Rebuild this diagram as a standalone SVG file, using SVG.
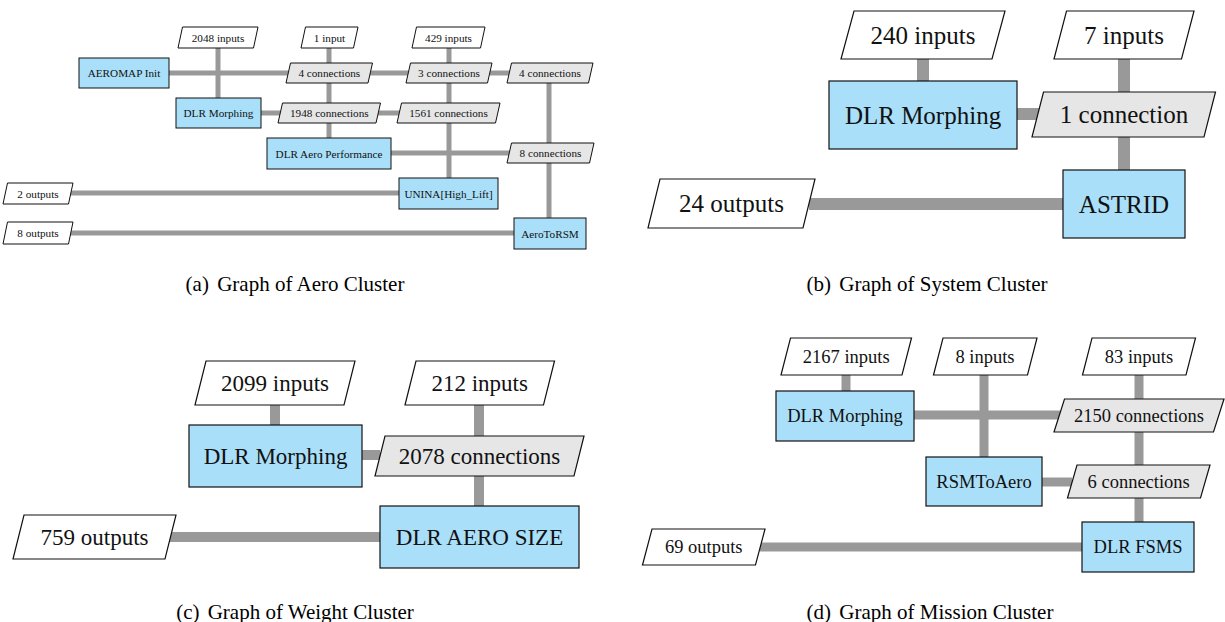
<svg xmlns="http://www.w3.org/2000/svg" width="1225" height="622" viewBox="0 0 1225 622" font-family="'Liberation Serif', 'Times New Roman', serif">
<style>
.bx{fill:#aadff9;stroke:#111;}
.pc{fill:#e6e6e6;stroke:#111;}
.pi{fill:#fff;stroke:#111;}
.a{stroke-width:1}
.o{stroke-width:1.2}
text{font-family:'Liberation Serif','Times New Roman',serif}
.t{fill:#111;text-anchor:middle;dominant-baseline:central}
.ta{font-size:11.2px}
.tb{font-size:25px}
.tc{font-size:23px}
.td{font-size:18.5px}
.cap{fill:#000;font-size:21px;text-anchor:middle}
.l{stroke:#999;fill:none;stroke-linecap:butt}
</style>
<g id="connectors">
  <g class="l" stroke-width="5">
    <path d="M218 48V98"/>
    <path d="M169 73H290"/>
    <path d="M329 48V138"/>
    <path d="M370 73H409"/>
    <path d="M490 73H510"/>
    <path d="M449 48V178"/>
    <path d="M549 83V218"/>
    <path d="M261 113H281"/>
    <path d="M378 113H400"/>
    <path d="M391 153H510"/>
    <path d="M70 193H399"/>
    <path d="M70 233H514"/>
  </g>
  <g class="l" stroke-width="12">
    <path d="M923 59V81"/>
    <path d="M1124 59V92"/>
    <path d="M1124 137V170"/>
    <path d="M1017 114H1040"/>
    <path d="M809 204H1063"/>
  </g>
  <g class="l" stroke-width="10">
    <path d="M275 405V425"/>
    <path d="M479 405V436"/>
    <path d="M479 476V506"/>
    <path d="M362 455H380"/>
    <path d="M170 537H380"/>
  </g>
  <g class="l" stroke-width="9">
    <path d="M846 375V391"/>
    <path d="M984 375V457"/>
    <path d="M1139 375V399"/>
    <path d="M1139 432V465"/>
    <path d="M1139 498V522"/>
    <path d="M914 415H1060"/>
    <path d="M1042 482H1072"/>
    <path d="M760 547H1082"/>
  </g>
</g>
<g id="panel-a">
  <g id="a-in2048"><polygon class="pi a" points="182.5,27 258,27 253.5,48 178,48"/><text class="t ta" x="218" y="37.5">2048 inputs</text></g>
  <g id="a-in1"><polygon class="pi a" points="305.5,27 358,27 353.5,48 301,48"/><text class="t ta" x="329.5" y="37.5">1 input</text></g>
  <g id="a-in429"><polygon class="pi a" points="416.5,27 485,27 480.5,48 412,48"/><text class="t ta" x="448.5" y="37.5">429 inputs</text></g>
  <g id="a-aeromap"><rect class="bx a" x="79" y="58" width="90" height="30"/><text class="t ta" x="124" y="73">AEROMAP Init</text></g>
  <g id="a-c4a"><polygon class="pc a" points="290.5,63 372.5,63 368,83 286,83"/><text class="t ta" x="329.3" y="73">4 connections</text></g>
  <g id="a-c3"><polygon class="pc a" points="410.5,63 492,63 487.5,83 406,83"/><text class="t ta" x="449" y="73">3 connections</text></g>
  <g id="a-c4b"><polygon class="pc a" points="511.5,63 593,63 588.5,83 507,83"/><text class="t ta" x="550" y="73">4 connections</text></g>
  <g id="a-morph"><rect class="bx a" x="176" y="98" width="85" height="30"/><text class="t ta" x="218.5" y="113">DLR Morphing</text></g>
  <g id="a-c1948"><polygon class="pc a" points="282.5,103 380.5,103 376,123 278,123"/><text class="t ta" x="329.3" y="113">1948 connections</text></g>
  <g id="a-c1561"><polygon class="pc a" points="401.5,103 500,103 495.5,123 397,123"/><text class="t ta" x="448.5" y="113">1561 connections</text></g>
  <g id="a-aeroperf"><rect class="bx a" x="267" y="138" width="124" height="31"/><text class="t ta" x="329" y="153.5">DLR Aero Performance</text></g>
  <g id="a-c8"><polygon class="pc a" points="511.5,143 594,143 589.5,163 507,163"/><text class="t ta" x="550.5" y="153">8 connections</text></g>
  <g id="a-out2"><polygon class="pi a" points="7.5,183 73,183 68.5,204 3,204"/><text class="t ta" x="38" y="193.5">2 outputs</text></g>
  <g id="a-unina"><rect class="bx a" x="399" y="178" width="99" height="31"/><text class="t ta" x="448.5" y="193.5">UNINA[High_Lift]</text></g>
  <g id="a-out8"><polygon class="pi a" points="7.5,222 73,222 68.5,244 3,244"/><text class="t ta" x="38" y="233">8 outputs</text></g>
  <g id="a-aerotorsm"><rect class="bx a" x="514" y="218" width="72" height="31"/><text class="t ta" x="550" y="233.5">AeroToRSM</text></g>
  <text class="cap" x="295" y="291">(a)<tspan dx="3"> Graph of Aero Cluster</tspan></text>
</g>
<g id="panel-b">
  <g id="b-in240"><polygon class="pi o" points="854,11 1005,11 992,59 841,59"/><text class="t tb" x="923" y="35">240 inputs</text></g>
  <g id="b-in7"><polygon class="pi o" points="1066.5,11 1194,11 1181.5,59 1054,59"/><text class="t tb" x="1124" y="35">7 inputs</text></g>
  <g id="b-morph"><rect class="bx o" x="829" y="81" width="188" height="68"/><text class="t tb" x="923" y="115">DLR Morphing</text></g>
  <g id="b-c1"><polygon class="pc o" points="1043.5,92 1215.5,92 1204,137 1032,137"/><text class="t tb" x="1124" y="114.5">1 connection</text></g>
  <g id="b-out24"><polygon class="pi o" points="660,179 815,179 803,228 648,228"/><text class="t tb" x="731.5" y="203.5">24 outputs</text></g>
  <g id="b-astrid"><rect class="bx o" x="1063" y="170" width="122" height="68"/><text class="t tb" x="1124" y="204">ASTRID</text></g>
  <text class="cap" x="927" y="291">(b)<tspan dx="3"> Graph of System Cluster</tspan></text>
</g>
<g id="panel-c">
  <g id="c-in2099"><polygon class="pi o" points="206,361 355,361 344,405 195,405"/><text class="t tc" x="275" y="383">2099 inputs</text></g>
  <g id="c-in212"><polygon class="pi o" points="416,361 554.5,361 543.5,405 405,405"/><text class="t tc" x="479.7" y="383">212 inputs</text></g>
  <g id="c-morph"><rect class="bx o" x="189" y="425" width="173" height="62"/><text class="t tc" x="275.5" y="456">DLR Morphing</text></g>
  <g id="c-c2078"><polygon class="pc o" points="385,436 584,436 574,476 375,476"/><text class="t tc" x="479.5" y="456">2078 connections</text></g>
  <g id="c-out759"><polygon class="pi o" points="24,515 176,515 165,559 13,559"/><text class="t tc" x="94.5" y="537">759 outputs</text></g>
  <g id="c-aerosize"><rect class="bx o" x="380" y="506" width="199" height="62"/><text class="t tc" x="479.5" y="537">DLR AERO SIZE</text></g>
  <text class="cap" x="295" y="619">(c)<tspan dx="3"> Graph of Weight Cluster</tspan></text>
</g>
<g id="panel-d">
  <g id="d-in2167"><polygon class="pi o" points="790.5,338 911.5,338 902,375 781,375"/><text class="t td" x="846.3" y="356.5">2167 inputs</text></g>
  <g id="d-in8"><polygon class="pi o" points="943,338 1037,338 1027.5,375 933.5,375"/><text class="t td" x="985" y="356.5">8 inputs</text></g>
  <g id="d-in83"><polygon class="pi o" points="1092,338 1195.5,338 1186,375 1082.5,375"/><text class="t td" x="1139" y="356.5">83 inputs</text></g>
  <g id="d-morph"><rect class="bx o" x="776" y="391" width="138" height="50"/><text class="t td" x="845" y="416">DLR Morphing</text></g>
  <g id="d-c2150"><polygon class="pc o" points="1064.5,399 1224,399 1213.5,432 1054,432"/><text class="t td" x="1139" y="415.5">2150 connections</text></g>
  <g id="d-rsmtoaero"><rect class="bx o" x="926" y="457" width="116" height="49"/><text class="t td" x="984" y="481.5">RSMToAero</text></g>
  <g id="d-c6"><polygon class="pc o" points="1077,465 1210,465 1200.5,498 1067.5,498"/><text class="t td" x="1138.7" y="481.5">6 connections</text></g>
  <g id="d-out69"><polygon class="pi o" points="652,529 765,529 755.5,565 642.5,565"/><text class="t td" x="703.7" y="547">69 outputs</text></g>
  <g id="d-fsms"><rect class="bx o" x="1082" y="522" width="112" height="50"/><text class="t td" x="1138" y="547">DLR FSMS</text></g>
  <text class="cap" x="930" y="619">(d)<tspan dx="3"> Graph of Mission Cluster</tspan></text>
</g>
</svg>
